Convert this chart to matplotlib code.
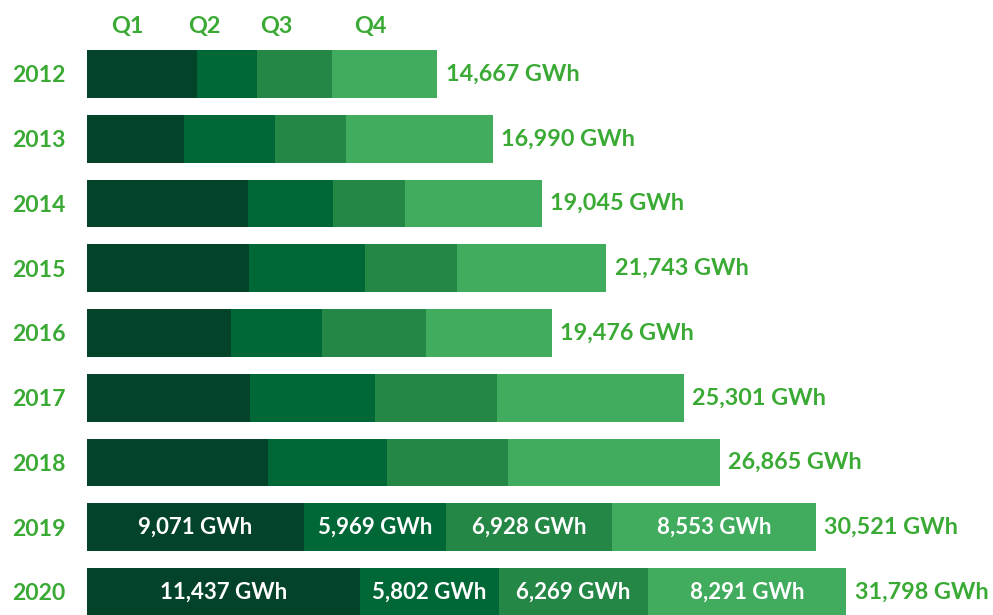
import numpy as np
import matplotlib.pyplot as plt

# data (GWh per quarter)
years = ["2012", "2013", "2014", "2015", "2016", "2017", "2018", "2019", "2020"]
q1 = [4606, 4061, 6741, 6783, 6029, 6825, 7579, 9071, 11437]
q2 = [2512, 3810, 3559, 4857, 3810, 5234, 4983, 5969, 5802]
q3 = [3140, 2973, 3015, 3852, 4354, 5108, 5066, 6928, 6269]
q4 = [4409, 6146, 5730, 6251, 5283, 7830, 8876, 8553, 8291]
totals = [14667, 16990, 19045, 21743, 19476, 25301, 26865, 30521, 31798]
quarters = ["Q1", "Q2", "Q3", "Q4"]
labelled_years = ["2019", "2020"]

colors = ["#03432A", "#006837", "#248746", "#41AC5E"]
green_txt = "#3AAA35"
plt.rcParams['font.family'] = ['Lato', 'DejaVu Sans']

fig = plt.figure(figsize=(9.93, 6.15), dpi=100)
ax = fig.add_axes([0, 0, 1, 1])

px = 41.87  # GWh per pixel
ax.set_xlim(-87 * px, (993 - 87) * px)
ax.set_ylim((615 - 74) / 64.75, -74 / 64.75)
ax.axis("off")

y = np.arange(len(years))
series = [q1, q2, q3, q4]
left = np.zeros(len(years))
for i, vals in enumerate(series):
    vals = np.array(vals)
    ax.barh(y, vals, left=left, height=0.74, color=colors[i])
    for j, yr in enumerate(years):
        if yr in labelled_years:
            ax.text(left[j] + vals[j] / 2, y[j], f"{vals[j]:,} GWh", color="white",
                    ha="center", va="center", fontsize=16, fontweight="bold")
    left = left + vals

for j, yr in enumerate(years):
    ax.annotate(f"{totals[j]:,} GWh", (left[j], y[j]), xytext=(6, 0),
                textcoords="offset points", ha="left", va="center",
                color=green_txt, fontsize=16.8, fontweight="bold")
    ax.text(-75 * px, y[j] + 0.03, yr, ha="left", va="center", color=green_txt,
            fontsize=16.6, fontweight="bold")

# quarter headers
header_x = [127, 204, 276, 370]
for q, hx in zip(quarters, header_x):
    ax.text((hx - 87) * px, -74 / 64.75 + 27 / 64.75, q, ha="center", va="center",
            color=green_txt, fontsize=16.8, fontweight="bold")

fig.savefig("out.png", dpi=100)
